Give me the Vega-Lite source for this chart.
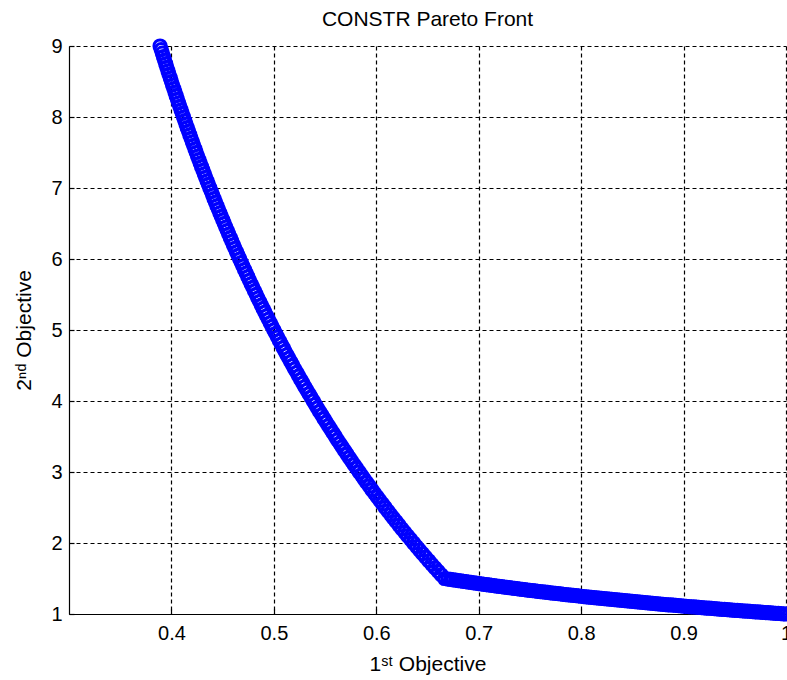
{
  "$schema": "https://vega.github.io/schema/vega-lite/v6.json",
  "width": 717,
  "height": 568,
  "autosize": {"type": "none"},
  "padding": {"left": 69, "top": 46, "right": 1, "bottom": 66},
  "background": "white",
  "title": {"text": "CONSTR Pareto Front", "fontSize": 21, "font": "Liberation Sans", "fontWeight": "normal", "color": "#000000", "offset": 4},
  "config": {
    "view": {"stroke": null},
    "axis": {
      "labelFont": "Liberation Sans", "labelFontSize": 20, "labelColor": "#000000",
      "titleFont": "Liberation Sans", "titleFontSize": 21, "titleColor": "#000000", "titleFontWeight": "normal",
      "domainColor": "#000000", "domainWidth": 1.2,
      "tickColor": "#000000", "tickSize": -5, "tickWidth": 1.2,
      "grid": true, "gridColor": "#000000", "gridDash": [4, 3], "gridOpacity": 1, "gridWidth": 1.2
    }
  },
  "data": {"values": [
    {"x":0.3889,"y":9.00},{"x":0.3900,"y":8.95},{"x":0.3911,"y":8.90},{"x":0.3922,"y":8.85},{"x":0.3933,"y":8.80},{"x":0.3944,"y":8.75},{"x":0.3955,"y":8.70},{"x":0.3966,"y":8.65},{"x":0.3977,"y":8.60},{"x":0.3989,"y":8.55},
    {"x":0.4000,"y":8.50},{"x":0.4011,"y":8.45},{"x":0.4023,"y":8.40},{"x":0.4035,"y":8.35},{"x":0.4046,"y":8.30},{"x":0.4058,"y":8.25},{"x":0.4070,"y":8.20},{"x":0.4082,"y":8.15},{"x":0.4094,"y":8.10},{"x":0.4106,"y":8.05},
    {"x":0.4118,"y":8.00},{"x":0.4130,"y":7.95},{"x":0.4142,"y":7.90},{"x":0.4154,"y":7.85},{"x":0.4167,"y":7.80},{"x":0.4179,"y":7.75},{"x":0.4192,"y":7.70},{"x":0.4204,"y":7.65},{"x":0.4217,"y":7.60},{"x":0.4230,"y":7.55},
    {"x":0.4242,"y":7.50},{"x":0.4255,"y":7.45},{"x":0.4268,"y":7.40},{"x":0.4281,"y":7.35},{"x":0.4294,"y":7.30},{"x":0.4308,"y":7.25},{"x":0.4321,"y":7.20},{"x":0.4334,"y":7.15},{"x":0.4348,"y":7.10},{"x":0.4361,"y":7.05},
    {"x":0.4375,"y":7.00},{"x":0.4389,"y":6.95},{"x":0.4403,"y":6.90},{"x":0.4416,"y":6.85},{"x":0.4430,"y":6.80},{"x":0.4444,"y":6.75},{"x":0.4459,"y":6.70},{"x":0.4473,"y":6.65},{"x":0.4487,"y":6.60},{"x":0.4502,"y":6.55},
    {"x":0.4516,"y":6.50},{"x":0.4531,"y":6.45},{"x":0.4545,"y":6.40},{"x":0.4560,"y":6.35},{"x":0.4575,"y":6.30},{"x":0.4590,"y":6.25},{"x":0.4605,"y":6.20},{"x":0.4620,"y":6.15},{"x":0.4636,"y":6.10},{"x":0.4651,"y":6.05},
    {"x":0.4667,"y":6.00},{"x":0.4682,"y":5.95},{"x":0.4698,"y":5.90},{"x":0.4714,"y":5.85},{"x":0.4730,"y":5.80},{"x":0.4746,"y":5.75},{"x":0.4762,"y":5.70},{"x":0.4778,"y":5.65},{"x":0.4795,"y":5.60},{"x":0.4811,"y":5.55},
    {"x":0.4828,"y":5.50},{"x":0.4844,"y":5.45},{"x":0.4861,"y":5.40},{"x":0.4878,"y":5.35},{"x":0.4895,"y":5.30},{"x":0.4912,"y":5.25},{"x":0.4930,"y":5.20},{"x":0.4947,"y":5.15},{"x":0.4965,"y":5.10},{"x":0.4982,"y":5.05},
    {"x":0.5000,"y":5.00},{"x":0.5018,"y":4.95},{"x":0.5036,"y":4.90},{"x":0.5054,"y":4.85},{"x":0.5072,"y":4.80},{"x":0.5091,"y":4.75},{"x":0.5109,"y":4.70},{"x":0.5128,"y":4.65},{"x":0.5147,"y":4.60},{"x":0.5166,"y":4.55},
    {"x":0.5185,"y":4.50},{"x":0.5204,"y":4.45},{"x":0.5224,"y":4.40},{"x":0.5243,"y":4.35},{"x":0.5263,"y":4.30},{"x":0.5283,"y":4.25},{"x":0.5303,"y":4.20},{"x":0.5323,"y":4.15},{"x":0.5344,"y":4.10},{"x":0.5364,"y":4.05},
    {"x":0.5385,"y":4.00},{"x":0.5405,"y":3.95},{"x":0.5426,"y":3.90},{"x":0.5447,"y":3.85},{"x":0.5469,"y":3.80},{"x":0.5490,"y":3.75},{"x":0.5512,"y":3.70},{"x":0.5534,"y":3.65},{"x":0.5556,"y":3.60},{"x":0.5578,"y":3.55},
    {"x":0.5600,"y":3.50},{"x":0.5622,"y":3.45},{"x":0.5645,"y":3.40},{"x":0.5668,"y":3.35},{"x":0.5691,"y":3.30},{"x":0.5714,"y":3.25},{"x":0.5738,"y":3.20},{"x":0.5761,"y":3.15},{"x":0.5785,"y":3.10},{"x":0.5809,"y":3.05},
    {"x":0.5833,"y":3.00},{"x":0.5858,"y":2.95},{"x":0.5882,"y":2.90},{"x":0.5907,"y":2.85},{"x":0.5932,"y":2.80},{"x":0.5957,"y":2.75},{"x":0.5983,"y":2.70},{"x":0.6009,"y":2.65},{"x":0.6034,"y":2.60},{"x":0.6061,"y":2.55},
    {"x":0.6087,"y":2.50},{"x":0.6114,"y":2.45},{"x":0.6140,"y":2.40},{"x":0.6167,"y":2.35},{"x":0.6195,"y":2.30},{"x":0.6222,"y":2.25},{"x":0.6250,"y":2.20},{"x":0.6278,"y":2.15},{"x":0.6306,"y":2.10},{"x":0.6335,"y":2.05},
    {"x":0.6364,"y":2.00},{"x":0.6393,"y":1.95},{"x":0.6422,"y":1.90},{"x":0.6452,"y":1.85},{"x":0.6481,"y":1.80},{"x":0.6512,"y":1.75},{"x":0.6542,"y":1.70},{"x":0.6573,"y":1.65},{"x":0.6604,"y":1.60},{"x":0.6635,"y":1.55},
    {"x":0.6667,"y":1.50},
    {"x":0.6700,"y":1.4925},{"x":0.6725,"y":1.4870},{"x":0.6750,"y":1.4815},{"x":0.6775,"y":1.4760},{"x":0.6800,"y":1.4706},{"x":0.6825,"y":1.4652},{"x":0.6850,"y":1.4599},{"x":0.6875,"y":1.4545},{"x":0.6900,"y":1.4493},{"x":0.6925,"y":1.4440},
    {"x":0.6950,"y":1.4388},{"x":0.6975,"y":1.4337},{"x":0.7000,"y":1.4286},{"x":0.7025,"y":1.4235},{"x":0.7050,"y":1.4184},{"x":0.7075,"y":1.4134},{"x":0.7100,"y":1.4085},{"x":0.7125,"y":1.4035},{"x":0.7150,"y":1.3986},{"x":0.7175,"y":1.3937},
    {"x":0.7200,"y":1.3889},{"x":0.7225,"y":1.3841},{"x":0.7250,"y":1.3793},{"x":0.7275,"y":1.3746},{"x":0.7300,"y":1.3699},{"x":0.7325,"y":1.3652},{"x":0.7350,"y":1.3605},{"x":0.7375,"y":1.3559},{"x":0.7400,"y":1.3514},{"x":0.7425,"y":1.3468},
    {"x":0.7450,"y":1.3423},{"x":0.7475,"y":1.3378},{"x":0.7500,"y":1.3333},{"x":0.7525,"y":1.3289},{"x":0.7550,"y":1.3245},{"x":0.7575,"y":1.3201},{"x":0.7600,"y":1.3158},{"x":0.7625,"y":1.3115},{"x":0.7650,"y":1.3072},{"x":0.7675,"y":1.3029},
    {"x":0.7700,"y":1.2987},{"x":0.7725,"y":1.2945},{"x":0.7750,"y":1.2903},{"x":0.7775,"y":1.2862},{"x":0.7800,"y":1.2821},{"x":0.7825,"y":1.2780},{"x":0.7850,"y":1.2739},{"x":0.7875,"y":1.2698},{"x":0.7900,"y":1.2658},{"x":0.7925,"y":1.2618},
    {"x":0.7950,"y":1.2579},{"x":0.7975,"y":1.2539},{"x":0.8000,"y":1.2500},{"x":0.8025,"y":1.2461},{"x":0.8050,"y":1.2422},{"x":0.8075,"y":1.2384},{"x":0.8100,"y":1.2346},{"x":0.8125,"y":1.2308},{"x":0.8150,"y":1.2270},{"x":0.8175,"y":1.2232},
    {"x":0.8200,"y":1.2195},{"x":0.8225,"y":1.2158},{"x":0.8250,"y":1.2121},{"x":0.8275,"y":1.2085},{"x":0.8300,"y":1.2048},{"x":0.8325,"y":1.2012},{"x":0.8350,"y":1.1976},{"x":0.8375,"y":1.1940},{"x":0.8400,"y":1.1905},{"x":0.8425,"y":1.1869},
    {"x":0.8450,"y":1.1834},{"x":0.8475,"y":1.1799},{"x":0.8500,"y":1.1765},{"x":0.8525,"y":1.1730},{"x":0.8550,"y":1.1696},{"x":0.8575,"y":1.1662},{"x":0.8600,"y":1.1628},{"x":0.8625,"y":1.1594},{"x":0.8650,"y":1.1561},{"x":0.8675,"y":1.1527},
    {"x":0.8700,"y":1.1494},{"x":0.8725,"y":1.1461},{"x":0.8750,"y":1.1429},{"x":0.8775,"y":1.1396},{"x":0.8800,"y":1.1364},{"x":0.8825,"y":1.1331},{"x":0.8850,"y":1.1299},{"x":0.8875,"y":1.1268},{"x":0.8900,"y":1.1236},{"x":0.8925,"y":1.1205},
    {"x":0.8950,"y":1.1173},{"x":0.8975,"y":1.1142},{"x":0.9000,"y":1.1111},{"x":0.9025,"y":1.1080},{"x":0.9050,"y":1.1050},{"x":0.9075,"y":1.1019},{"x":0.9100,"y":1.0989},{"x":0.9125,"y":1.0959},{"x":0.9150,"y":1.0929},{"x":0.9175,"y":1.0899},
    {"x":0.9200,"y":1.0870},{"x":0.9225,"y":1.0840},{"x":0.9250,"y":1.0811},{"x":0.9275,"y":1.0782},{"x":0.9300,"y":1.0753},{"x":0.9325,"y":1.0724},{"x":0.9350,"y":1.0695},{"x":0.9375,"y":1.0667},{"x":0.9400,"y":1.0638},{"x":0.9425,"y":1.0610},
    {"x":0.9450,"y":1.0582},{"x":0.9475,"y":1.0554},{"x":0.9500,"y":1.0526},{"x":0.9525,"y":1.0499},{"x":0.9550,"y":1.0471},{"x":0.9575,"y":1.0444},{"x":0.9600,"y":1.0417},{"x":0.9625,"y":1.0390},{"x":0.9650,"y":1.0363},{"x":0.9675,"y":1.0336},
    {"x":0.9700,"y":1.0309},{"x":0.9725,"y":1.0283},{"x":0.9750,"y":1.0256},{"x":0.9775,"y":1.0230},{"x":0.9800,"y":1.0204},{"x":0.9825,"y":1.0178},{"x":0.9850,"y":1.0152},{"x":0.9875,"y":1.0127},{"x":0.9900,"y":1.0101},{"x":0.9925,"y":1.0076},
    {"x":0.9950,"y":1.0050},{"x":0.9975,"y":1.0025},{"x":1.0000,"y":1.0000}
  ]},
  "mark": {"type": "point", "shape": "circle", "filled": false, "stroke": "#0000ff", "strokeWidth": 3, "size": 150, "clip": false, "opacity": 1},
  "encoding": {
    "x": {
      "field": "x", "type": "quantitative",
      "scale": {"domain": [0.3, 1], "nice": false, "zero": false},
      "axis": {"values": [0.4, 0.5, 0.6, 0.7, 0.8, 0.9, 1], "labelExpr": "datum.value == 1 ? '1' : format(datum.value, '.1f')", "labelPadding": 14, "title": "1ˢᵗ Objective", "titlePadding": 10, "labelFlush": false}
    },
    "y": {
      "field": "y", "type": "quantitative",
      "scale": {"domain": [1, 9], "nice": false, "zero": false},
      "axis": {"values": [1, 2, 3, 4, 5, 6, 7, 8, 9], "format": "d", "labelPadding": 12, "title": "2ⁿᵈ Objective", "titlePadding": 16}
    }
  }
}
